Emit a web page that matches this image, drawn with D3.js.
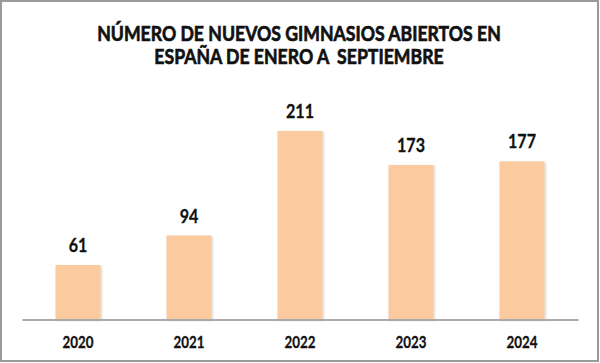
<!DOCTYPE html>
<html>
<head>
<meta charset="utf-8">
<script src="https://cdn.jsdelivr.net/npm/d3@7"></script>
<style>
  html, body { margin: 0; padding: 0; background: #fff; }
  svg { display: block; }
  text { font-family: Lato, "Open Sans", sans-serif; font-weight: 700; fill: #111; }
</style>
</head>
<body>
<svg id="chart" width="600" height="363"></svg>
<script>
const titleLines = ["NÚMERO DE NUEVOS GIMNASIOS ABIERTOS EN", "ESPAÑA DE ENERO A  SEPTIEMBRE"];
const categories = ["2020", "2021", "2022", "2023", "2024"];
const values = [61, 94, 211, 173, 177];

const svg = d3.select("#chart");

const defs = svg.append("defs");
const f = defs.append("filter").attr("id", "shadow").attr("x", "-20%").attr("y", "-20%").attr("width", "140%").attr("height", "140%");
f.append("feDropShadow").attr("dx", 1).attr("dy", 1).attr("stdDeviation", 1.2)
  .attr("flood-color", "#000").attr("flood-opacity", 0.22);

function squeeze(sel, s) {
  sel.each(function() {
    const t = d3.select(this);
    const cx = +t.attr("x");
    t.attr("transform", `translate(${cx},0) scale(${s},1) translate(${-cx},0)`);
  });
}

// frame
svg.append("rect").attr("x", 1).attr("y", 1).attr("width", 597).attr("height", 360)
  .attr("fill", "#fff").attr("stroke", "#9a9a9a").attr("stroke-width", 2);

// title
const tl = [{t: titleLines[0], y: 41.5}, {t: titleLines[1], y: 64.5}];
const titles = svg.selectAll("text.title").data(tl).join("text")
  .attr("class", "title")
  .attr("x", 299).attr("y", d => d.y)
  .attr("text-anchor", "middle")
  .attr("font-size", 21.5)
  .attr("stroke", "#111").attr("stroke-width", 0.7)
  .style("white-space", "pre")
  .text(d => d.t);
const w1 = titles.nodes()[0].getComputedTextLength();
squeeze(titles, 404 / w1);

const x = d3.scaleBand().domain(categories).range([22, 578])
  .paddingInner(0.595).paddingOuter(0.302);
const y = d3.scaleLinear().domain([0, 250]).range([319.5, 96.2]);

const data = categories.map((c, i) => ({c, v: values[i]}));

svg.append("g").selectAll("rect").data(data).join("rect")
  .attr("x", d => x(d.c)).attr("width", x.bandwidth())
  .attr("y", d => y(d.v)).attr("height", d => y(0) - y(d.v))
  .attr("fill", "#FBCA9E")
  .attr("filter", "url(#shadow)");

// baseline axis
const axis = svg.append("g").attr("transform", `translate(0,${y(0)})`)
  .call(d3.axisBottom(x).tickSize(0).tickPadding(0));
axis.select(".domain").attr("stroke", "#aaaaaa").attr("stroke-width", 2);
axis.attr("font-family", null).attr("font-size", null);
const tickTexts = axis.selectAll(".tick text")
  .attr("x", 0).attr("y", 28.5).attr("dy", null)
  .attr("font-size", 16.5)
  .attr("stroke", "#111").attr("stroke-width", 0.3)
  .style("fill", "#111");
squeeze(tickTexts, 31 / tickTexts.nodes()[0].getComputedTextLength());

// value labels
const labels = svg.append("g").selectAll("text").data(data).join("text")
  .attr("x", d => x(d.c) + x.bandwidth() / 2)
  .attr("y", d => y(d.v) - 13)
  .attr("text-anchor", "middle")
  .attr("font-size", 19.5)
  .attr("stroke", "#111").attr("stroke-width", 0.3)
  .text(d => d.v);
squeeze(labels, 28 / labels.nodes()[3].getComputedTextLength());
</script>
</body>
</html>
